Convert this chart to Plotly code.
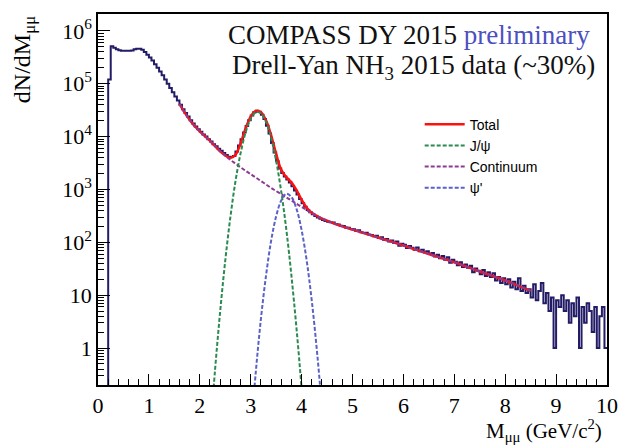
import numpy as np
import plotly.graph_objects as go

# ---------------- data ----------------
bin_width = 0.05
hist_start = 0.0
hist_counts = [
    0.05, 0.05, 0.05, 0.05,
    1.2e5, 5.1e5, 4.8e5, 4.5e5, 4.3e5, 4.2e5, 4.2e5, 4.2e5, 4.2e5, 4.25e5,
    4.5e5, 4.6e5, 4.6e5, 4.4e5, 4.0e5, 3.55e5, 3.15e5, 2.75e5, 2.35e5, 2.0e5,
    1.7e5, 1.45e5, 1.2e5, 1.0e5, 8.3e4, 6.9e4, 5.75e4, 4.8e4, 4.0e4, 3.3e4,
    2.8e4, 2.4e4, 2.05e4, 1.78e4, 1.55e4, 1.38e4, 1.23e4, 1.1e4, 1.0e4, 8.9e3,
    8.1e3, 7.2e3, 6.6e3, 5.9e3, 5.4e3, 4.9e3, 4.5e3, 4.15e3, 4.1e3, 4.3e3,
    5.2e3, 6.8e3, 8.9e3, 1.2e4, 1.58e4, 2.05e4, 2.5e4, 2.9e4, 3.1e4, 2.95e4,
    2.6e4, 2.15e4, 1.6e4, 1.15e4, 7.6e3, 5.0e3, 3.4e3, 2.5e3, 2.05e3, 1.75e3,
    1.55e3, 1.35e3, 1.15e3, 955, 800, 660, 550, 470, 410, 370,
    340, 315, 295, 280, 265, 252, 244, 240, 236, 222,
    218, 205, 204, 190, 188, 178, 176, 165, 170, 155,
    150, 152, 140, 138, 130, 133, 121, 124, 112, 116,
    104, 108, 97, 104, 86, 94, 90, 78, 85, 79,
    72, 80, 68, 72, 64, 68, 60, 63, 54, 58,
    50, 55, 47, 52, 41, 47, 43, 37, 42, 34,
    38, 33, 36, 27, 32, 29, 25, 30, 23, 27,
    22, 26, 19, 22, 17, 21, 16, 20, 14, 18,
    13, 21, 12, 15, 11, 13, 9, 16, 8, 12,
    17, 7, 11, 5, 9, 1.0, 8, 6, 10, 5,
    8, 3, 7, 4, 9, 1.0, 6, 3, 7, 5,
    2, 6, 1.0, 4, 6, 1.0,
]

total_x = [1.6, 1.7, 1.8, 1.9, 2.0, 2.1, 2.2, 2.3, 2.4, 2.5, 2.6, 2.7, 2.8, 2.9,
           3.0, 3.1, 3.2, 3.3, 3.4, 3.5, 3.6, 3.7, 3.8, 3.9, 4.0, 4.1, 4.2, 4.3,
           4.4, 4.5, 4.6, 4.7, 4.8, 4.9, 5.0, 5.5, 6.0, 6.5, 7.0, 7.5, 8.0, 8.5]
total_y = [41700, 28800, 20900, 15800, 12600, 10200, 8320, 6610, 5255, 4415,
           3925, 4500, 7420, 14260, 23850, 30480, 28950, 20370, 10725, 4713,
           2345, 1712, 1360, 969, 638, 452, 363, 317, 282, 257, 234, 216, 200,
           186, 174, 123, 87, 60, 42, 28, 19, 12]

cont_x = [1.6, 1.7, 1.8, 1.9, 2.0, 2.1, 2.2, 2.3, 2.4, 2.5, 2.6, 2.7, 2.8, 2.9,
          3.0, 3.1, 3.2, 3.3, 3.4, 3.5, 3.6, 3.7, 3.8, 3.9, 4.0, 4.1, 4.2, 4.3,
          4.4, 4.5, 4.6, 4.7, 4.8, 4.9, 5.0, 5.5, 6.0, 6.5, 7.0, 7.5, 8.0, 8.5]
cont_y = [41700, 28800, 20900, 15800, 12600, 10200, 8320, 6610, 5250, 4370,
          3630, 3090, 2630, 2260, 1950, 1680, 1445, 1245, 1070, 933, 813, 708,
          617, 537, 468, 407, 355, 316, 282, 257, 234, 216, 200, 186, 174, 123,
          87, 60, 42, 28, 19, 12]

jpsi_x = [2.2, 2.3, 2.4, 2.5, 2.6, 2.7, 2.8, 2.9, 3.0, 3.1, 3.2, 3.3, 3.4, 3.5,
          3.6, 3.7, 3.8, 3.9, 4.0, 4.1]
jpsi_y = [0.022, 0.39, 4.9, 45, 295, 1410, 4790, 12000, 21900, 28800, 27500,
          19100, 9550, 3470, 912, 174, 23.4, 2.34, 0.17, 0.0089]

psip_x = [3.0, 3.1, 3.2, 3.3, 3.4, 3.5, 3.6, 3.7, 3.8, 3.9, 4.0, 4.1, 4.2, 4.3,
          4.4, 4.5]
psip_y = [0.023, 0.35, 3.5, 23, 105, 310, 620, 830, 720, 430, 170, 45, 7.8,
          0.91, 0.071, 0.0037]

x_ticks = [0, 1, 2, 3, 4, 5, 6, 7, 8, 9, 10]
y_ticks = [1, 10, 100, 1e3, 1e4, 1e5, 1e6]
y_ticktext = ["1", "10", "10<sup>2</sup>", "10<sup>3</sup>", "10<sup>4</sup>",
              "10<sup>5</sup>", "10<sup>6</sup>"]

# ---------------- figure ----------------
edges = hist_start + bin_width * np.arange(len(hist_counts) + 1)
hx = list(edges)
hy = list(hist_counts) + [hist_counts[-1]]

serif = "Liberation Serif, Times New Roman, serif"
sans = "Liberation Sans, Arial, sans-serif"

fig = go.Figure()
fig.add_trace(go.Scatter(x=hx, y=hy, mode="lines", line_shape="hv",
                         line=dict(color="#221c66", width=2), showlegend=False,
                         hoverinfo="skip"))
fig.add_trace(go.Scatter(x=total_x, y=total_y, mode="lines", line_shape="spline",
                         line=dict(color="#ff1010", width=2.5), name="Total",
                         legendrank=1))
fig.add_trace(go.Scatter(x=cont_x, y=cont_y, mode="lines", line_shape="spline",
                         line=dict(color="#8e3a92", width=2, dash="4px,2px"),
                         name="Continuum", legendrank=3))
fig.add_trace(go.Scatter(x=jpsi_x, y=jpsi_y, mode="lines", line_shape="spline",
                         line=dict(color="#2b8a4e", width=2, dash="4px,2px"),
                         name="J/\u03c8", legendrank=2))
fig.add_trace(go.Scatter(x=psip_x, y=psip_y, mode="lines", line_shape="spline",
                         line=dict(color="#5a62c8", width=2, dash="4px,2px"),
                         name="\u03c8'", legendrank=4))

minor_x = [v / 10 for v in range(0, 101, 2) if v % 10 != 0]
minor_y = [m * 10 ** e for e in range(-1, 7) for m in range(2, 10)]

fig.update_xaxes(range=[0, 10], tickvals=x_ticks, ticks="inside", ticklen=11,
                 tickwidth=1.2, tickcolor="black", showline=True, linecolor="black",
                 linewidth=1.5, mirror=True, showgrid=False, zeroline=False,
                 tickfont=dict(family=serif, size=22, color="black"),
                 minor=dict(tickvals=minor_x, ticks="inside", ticklen=6,
                            tickcolor="black", tickwidth=1.2))
fig.update_yaxes(type="log", range=[-0.7, 6.32], tickvals=y_ticks, ticktext=y_ticktext,
                 ticks="inside", ticklen=12, tickwidth=1.2, tickcolor="black",
                 showline=True, linecolor="black", linewidth=1.5, mirror=True,
                 showgrid=False, zeroline=False,
                 tickfont=dict(family=serif, size=22, color="black"),
                 minor=dict(tickvals=minor_y, ticks="inside", ticklen=6,
                            tickcolor="black", tickwidth=1.2))

fig.update_layout(
    width=630, height=445,
    margin=dict(l=98, r=13, t=12, b=60),
    paper_bgcolor="white", plot_bgcolor="white",
    showlegend=True,
    hovermode=False,
    legend=dict(x=0.632, y=0.745, xanchor="left", yanchor="top",
                bgcolor="rgba(0,0,0,0)", itemwidth=40,
                font=dict(family=sans, size=14, color="black")),
    annotations=[
        dict(text="COMPASS DY 2015 <span style='color:#4b4fbf'>preliminary</span>",
             xref="paper", yref="paper", x=0.97, y=0.944, xanchor="right",
             yanchor="middle", showarrow=False,
             font=dict(family=serif, size=27, color="#111111")),
        dict(text="Drell-Yan NH<sub>3</sub> 2015 data (~30%)",
             xref="paper", yref="paper", x=0.98, y=0.856, xanchor="right",
             yanchor="middle", showarrow=False,
             font=dict(family=serif, size=27, color="#111111")),
        dict(text="dN/dM<sub>\u03bc\u03bc</sub>", textangle=-90,
             xref="paper", yref="paper", x=-0.146, y=1.0, xanchor="center",
             yanchor="top", showarrow=False,
             font=dict(family=serif, size=24, color="black")),
        dict(text="M<sub>\u03bc\u03bc</sub> (GeV/c<sup>2</sup>)",
             xref="paper", yref="paper", x=0.995, y=-0.122, xanchor="right",
             yanchor="middle", showarrow=False,
             font=dict(family=serif, size=21, color="black")),
    ],
)

fig.write_html("out.html", config={"displayModeBar": False},
               post_script="document.body.style.margin='0';document.body.style.padding='0';")
